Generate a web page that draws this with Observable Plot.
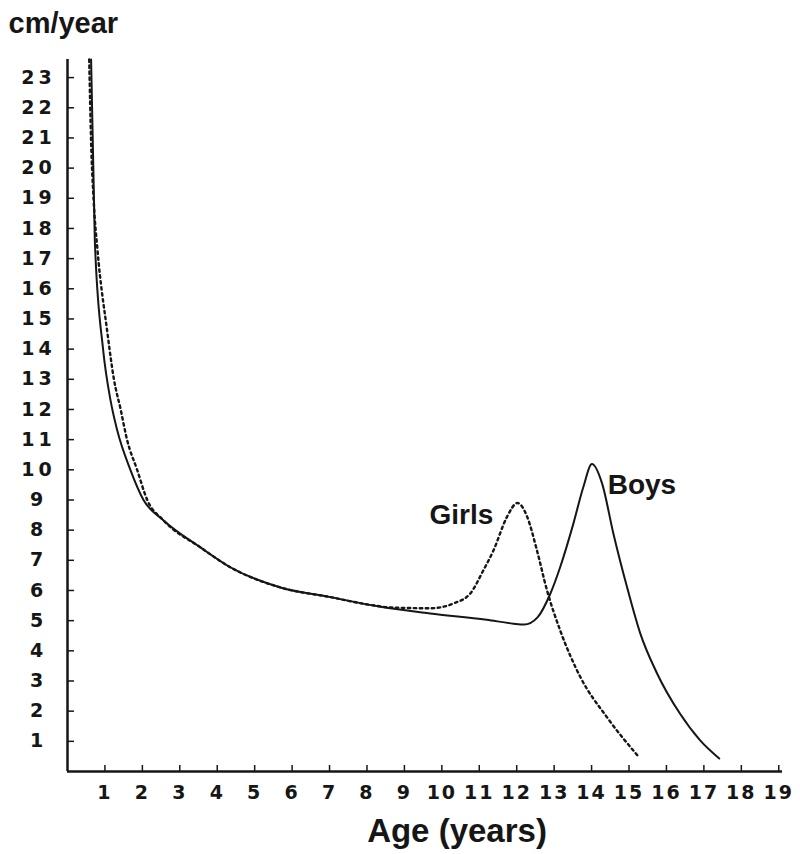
<!DOCTYPE html>
<html><head><meta charset="utf-8">
<script src="https://cdn.jsdelivr.net/npm/d3@7"></script>
<script src="https://cdn.jsdelivr.net/npm/@observablehq/plot@0.6"></script>
<style>
body{margin:0;background:#fff;}
g[aria-label="y-axis tick label"] text{letter-spacing:4px;}
g[aria-label="x-axis tick label"] text{letter-spacing:2px;}
</style></head><body><div id="chart"></div>
<script>
// Growth velocity (cm/year) by age (years)
const boysAge  = [0.63, 0.73, 0.95, 1.15, 1.33, 1.68, 2.03, 2.56, 3.55, 4.35, 5.69, 7.02, 8.36, 9.69, 11.2, 11.91, 12.2, 12.55, 12.9, 13.16, 13.51, 13.78, 14.01, 14.28, 14.58, 14.95, 15.3, 15.75, 16.36, 16.9, 17.41];
const boysRate = [23.6, 17.6, 14.0, 12.3, 11.3, 10.0, 9.0, 8.33, 7.43, 6.77, 6.1, 5.78, 5.46, 5.24, 5.03, 4.9, 4.87, 5.1, 5.9, 6.77, 8.2, 9.43, 10.19, 9.55, 7.9, 6.1, 4.58, 3.25, 1.92, 1.03, 0.43];
const girlsAge  = [0.58, 0.63, 0.70, 0.80, 1.06, 1.24, 1.42, 1.59, 1.86, 2.13, 2.56, 3.55, 4.35, 5.69, 7.02, 8.1, 8.62, 9.69, 10.31, 10.76, 11.11, 11.38, 11.74, 12.02, 12.28, 12.54, 12.81, 13.16, 13.7, 14.41, 15.27];
const girlsRate = [23.6, 20.9, 18.9, 17.3, 14.6, 13.0, 12.0, 11.0, 10.0, 9.0, 8.33, 7.43, 6.77, 6.1, 5.78, 5.52, 5.44, 5.41, 5.57, 5.9, 6.67, 7.33, 8.44, 8.9, 8.44, 7.33, 6.0, 4.68, 3.13, 1.8, 0.47];
const xTicks = d3.range(1, 20);
const yTicks = d3.range(1, 24);
const seriesNames = ["Boys", "Girls"];
const yLabel = "cm/year";
const xLabel = "Age (years)";

const boys = boysAge.map((a, i) => ({age: a, rate: boysRate[i], sex: seriesNames[0]}));
const girls = girlsAge.map((a, i) => ({age: a, rate: girlsRate[i], sex: seriesNames[1]}));
// peak points (after age 10) used to anchor the labels
const boysPeak = d3.greatest(boys.filter(d => d.age > 10), d => d.rate);
const girlsPeak = d3.greatest(girls.filter(d => d.age > 10), d => d.rate);

const ink = "#161616";
const labelFont = "'Liberation Sans', Arial, sans-serif";
const tickFont = "'DejaVu Sans', sans-serif";

const chart = Plot.plot({
  width: 800,
  height: 854,
  marginLeft: 67,
  marginRight: 18,
  marginTop: 59,
  marginBottom: 83,
  style: {background: "#fff", color: ink},
  x: {domain: [0, 19.1]},
  y: {domain: [0, 23.6]},
  marks: [
    Plot.axisY({ticks: yTicks, tickSize: -7, tickPadding: 36, textAnchor: "middle", label: null, fontSize: 19, fontWeight: "bold", fontFamily: tickFont, strokeWidth: 1.5}),
    Plot.axisX({ticks: xTicks, tickSize: -6, tickPadding: 20, label: null, fontSize: 19, fontWeight: "bold", fontFamily: tickFont, strokeWidth: 1.5}),
    Plot.ruleX([0], {stroke: ink, strokeWidth: 2.5}),
    Plot.ruleY([0], {stroke: ink, strokeWidth: 2.5}),
    Plot.line(boys, {x: "age", y: "rate", curve: "monotone-x", stroke: ink, strokeWidth: 2}),
    Plot.line(girls, {x: "age", y: "rate", curve: "monotone-x", stroke: ink, strokeWidth: 2.4, strokeDasharray: "2.5,3.5"}),
    Plot.text([girlsPeak], {x: "age", y: "rate", text: "sex", dx: -56, dy: 12, fontSize: 28, fontWeight: "bold", fontFamily: labelFont, fill: ink}),
    Plot.text([boysPeak], {x: "age", y: "rate", text: "sex", dx: 50, dy: 21, fontSize: 28, fontWeight: "bold", fontFamily: labelFont, fill: ink}),
    Plot.text([yLabel], {frameAnchor: "top-left", textAnchor: "start", dx: -59, dy: -47, fontSize: 29, fontWeight: "bold", fontFamily: labelFont, fill: ink}),
    Plot.text([xLabel], {frameAnchor: "bottom", dx: 32, dy: 70, fontSize: 33, fontWeight: "bold", fontFamily: labelFont, fill: ink})
  ]
});
document.getElementById("chart").append(chart);
</script></body></html>
